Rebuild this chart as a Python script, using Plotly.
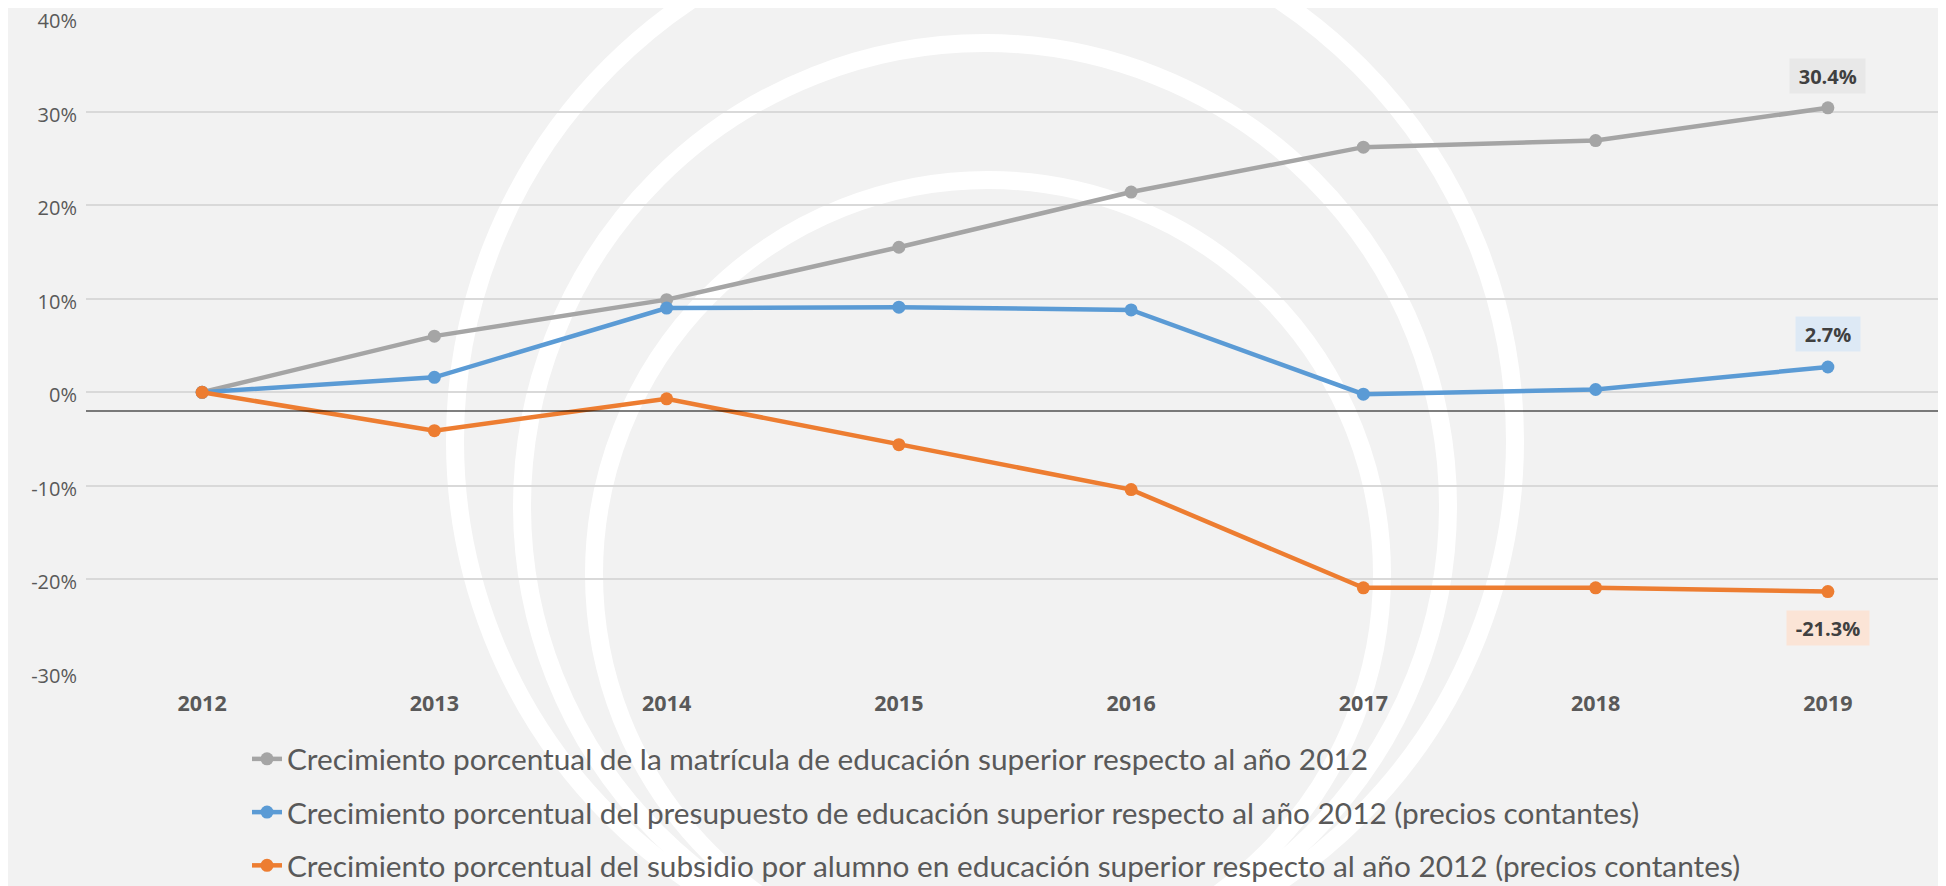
import plotly.graph_objects as go

# Datos: crecimiento porcentual respecto a 2012
years = ['2012', '2013', '2014', '2015', '2016', '2017', '2018', '2019']
matricula = [0.0, 6.0, 9.9, 15.5, 21.4, 26.2, 26.9, 30.4]
presupuesto = [0.0, 1.6, 9.0, 9.1, 8.8, -0.2, 0.3, 2.7]
subsidio = [0.0, -4.1, -0.7, -5.6, -10.4, -20.9, -20.9, -21.3]
y_ticks = [-30, -20, -10, 0, 10, 20, 30, 40]

names = [
    'Crecimiento porcentual de la matrícula de educación superior respecto al año 2012',
    'Crecimiento porcentual del presupuesto de educación superior respecto al año 2012 (precios contantes)',
    'Crecimiento porcentual del subsidio por alumno en educación superior respecto al año 2012 (precios contantes)',
]
colors = ['#a5a5a5', '#5b9bd5', '#ed7d31']
label_bg = ['#e8e8e8', '#dde9f5', '#fbe4d6']
label_shift = [32, 33, -36]

# the page adds an 8px body margin, so the figure is 8px smaller
OFF = 8
W, H = 1946 - OFF, 886 - OFF
L, R, T, B = 86 - OFF, 2, 18 - OFF, 213
pw, ph = W - L - R, H - T - B


def px_x(x):
    return (x - OFF - L) / pw


def px_y(y):
    return (H - B - (y - OFF)) / ph


fig = go.Figure()

series = [matricula, presupuesto, subsidio]
for i, vals in enumerate(series):
    fig.add_trace(go.Scatter(
        x=years,
        y=vals,
        name=names[i],
        mode='lines+markers',
        line=dict(color=colors[i], width=4.5),
        marker=dict(color=colors[i], size=13),
        legendgroup=str(i),
    ))

# etiquetas del ultimo valor (x como indice de categoria)
annotations = []
for i, vals in enumerate(series):
    annotations.append(dict(
        xref='x', yref='y',
        x=len(years) - 1, y=vals[-1],
        text='&nbsp;<b>' + format(vals[-1], '.1f') + '%</b>&nbsp;',
        showarrow=False, yshift=label_shift[i],
        bgcolor=label_bg[i], borderpad=3.5,
        font=dict(family='Open Sans', size=20, color='#404040'),
    ))

# marca de agua: anillos blancos
shapes = []
rings = [(985, 441, 530), (985, 506, 463), (988, 574, 394)]
for cx, cy, r in rings:
    shapes.append(dict(
        type='circle', xref='paper', yref='paper',
        x0=px_x(cx - r), x1=px_x(cx + r),
        y0=px_y(cy + r), y1=px_y(cy - r),
        line=dict(color='white', width=18),
        fillcolor='rgba(0,0,0,0)', layer='below',
    ))

# linea horizontal negra del eje
shapes.append(dict(
    type='line', xref='paper', yref='y',
    x0=0, x1=1, y0=-2, y1=-2,
    line=dict(color='black', width=1.2),
))

fig.update_layout(
    width=W, height=H,
    margin=dict(l=L, r=R, t=T, b=B, autoexpand=False),
    paper_bgcolor='#f2f2f2',
    plot_bgcolor='rgba(0,0,0,0)',
    showlegend=True,
    annotations=annotations,
    shapes=shapes,
    legend=dict(
        x=px_x(247), y=px_y(733), xanchor='left', yanchor='top',
        font=dict(family='Lato', size=29.8, color='#595959'),
        bgcolor='rgba(0,0,0,0)',
        traceorder='grouped', tracegroupgap=11.5,
    ),
    xaxis=dict(
        type='category', range=[-0.5, 7.5],
        showgrid=False, showline=False, zeroline=False,
        ticks='outside', ticklen=11, tickcolor='rgba(0,0,0,0)',
        tickfont=dict(family='Open Sans', size=21.5, color='#595959', weight='bold'),
    ),
    yaxis=dict(
        range=[-30, 40], tickvals=y_ticks,
        ticktext=[str(v) + '%' for v in y_ticks],
        showgrid=True, gridcolor='#d9d9d9', gridwidth=1.5,
        zeroline=False, showline=False,
        ticks='outside', ticklen=4, tickcolor='rgba(0,0,0,0)',
        ticklabeloverflow='allow', ticklabelshift=3,
        tickfont=dict(family='Open Sans', size=20, color='#595959'),
    ),
)

fig.write_html('out.html')
